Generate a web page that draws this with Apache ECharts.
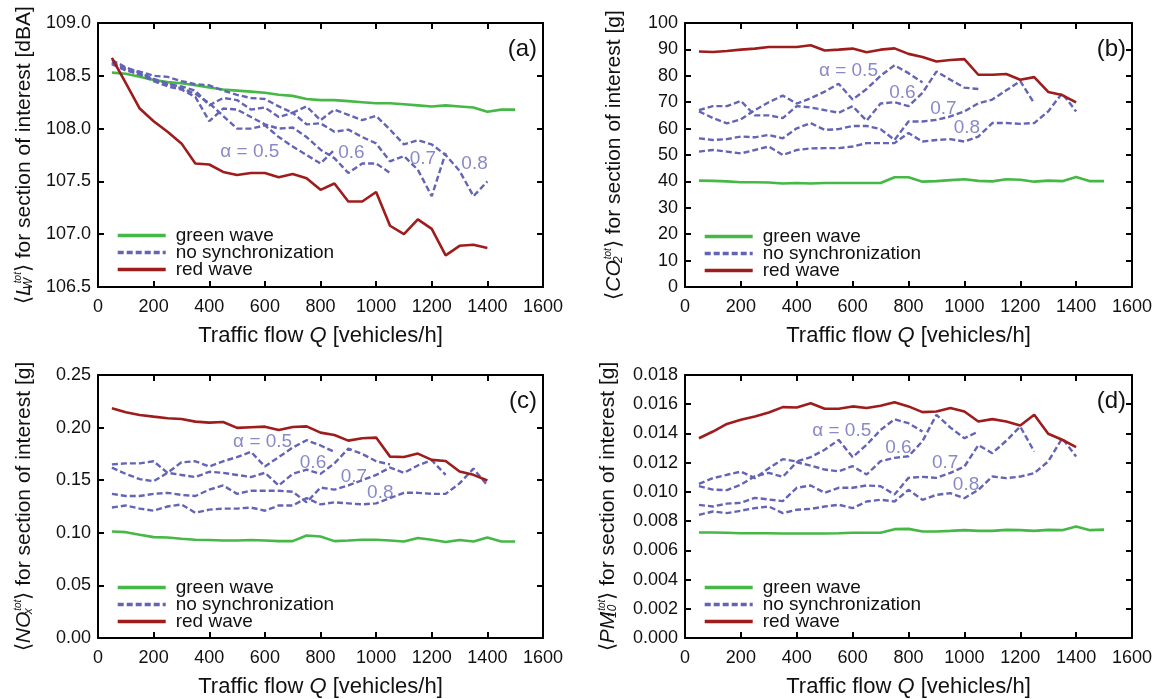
<!DOCTYPE html>
<html><head><meta charset="utf-8">
<script src="https://cdn.jsdelivr.net/npm/echarts@6/dist/echarts.min.js"></script>
<style>html,body{margin:0;padding:0;background:#fff}#c{width:1161px;height:699px}</style>
</head><body><div id="c"></div>
<script>
// Traffic flow Q [vehicles/h]
const flow = [50,100,150,200,250,300,350,400,450,500,550,600,650,700,750,800,850,900,950,1000,1050,1100,1150,1200,1250,1300,1350,1400,1450,1500];

// (a) <L_W^tot> [dBA]
const aGreen = [108.53,108.52,108.49,108.46,108.44,108.43,108.41,108.39,108.37,108.36,108.35,108.34,108.32,108.31,108.28,108.27,108.27,108.26,108.25,108.24,108.24,108.23,108.22,108.21,108.22,108.21,108.20,108.16,108.18,108.18];
const aRed = [108.67,108.43,108.19,108.07,107.97,107.86,107.67,107.66,107.59,107.56,107.58,107.58,107.54,107.57,107.53,107.42,107.48,107.31,107.31,107.40,107.08,107.00,107.14,107.05,106.80,106.89,106.90,106.87];
const aNoSync05 = [108.65,108.58,108.53,108.47,108.43,108.38,108.33,108.24,108.12,108.00,108.00,108.03,107.92,107.83,107.75,107.67,107.80];
const aNoSync06 = [108.62,108.56,108.51,108.45,108.40,108.37,108.30,108.07,108.19,108.18,108.11,108.04,108.00,108.01,107.92,107.80,107.72,107.58,107.67,107.67,107.58];
const aNoSync07 = [108.61,108.55,108.52,108.46,108.42,108.40,108.36,108.22,108.29,108.27,108.18,108.20,108.11,108.15,108.04,108.05,107.97,107.99,107.92,107.86,107.69,107.74,107.61,107.36,107.77];
const aNoSync08 = [108.63,108.57,108.54,108.50,108.49,108.45,108.42,108.41,108.36,108.32,108.29,108.28,108.21,108.15,108.21,108.08,108.18,108.13,108.08,108.12,107.99,107.85,107.89,107.85,107.75,107.60,107.36,107.50];

// (b) <CO2^tot> [g]
const bGreen = [40.3,40.2,40.0,39.7,39.7,39.6,39.2,39.4,39.2,39.4,39.4,39.4,39.4,39.4,41.6,41.6,39.9,40.1,40.5,40.8,40.2,40.0,40.8,40.6,39.9,40.3,40.1,41.7,40.1,40.1];
const bRed = [89.2,89.0,89.4,89.9,90.3,90.9,90.9,90.9,91.6,89.6,89.9,90.3,88.9,89.9,90.4,88.3,87.1,85.4,86.0,86.3,80.4,80.4,80.7,78.5,79.5,73.9,72.7,69.9];
const bNoSync05 = [66.5,64.0,62.0,63.5,67.0,70.0,72.5,69.5,71.5,74.0,77.0,71.0,75.0,80.0,84.0,81.0,77.5];
const bNoSync06 = [67.0,68.5,68.5,70.5,65.0,65.0,64.0,68.5,68.0,67.0,66.0,68.5,63.0,69.5,70.0,68.5,73.5,81.6,78.5,75.5,75.0];
const bNoSync07 = [56.3,55.7,56.0,57.0,56.7,57.6,56.3,60.1,62.1,59.5,59.8,61.0,61.0,59.8,55.7,62.7,62.7,63.3,64.6,66.5,69.6,71.0,74.5,78.0,69.6];
const bNoSync08 = [51.3,51.9,51.3,50.6,51.9,53.2,50.0,51.9,52.5,52.6,52.6,53.2,54.5,54.5,54.5,58.3,55.1,55.7,56.0,55.1,57.0,62.1,62.1,61.8,62.1,66.5,73.4,66.5];

// (c) <NOx^tot> [g]
const cGreen = [0.1012,0.1006,0.0981,0.0959,0.0956,0.0943,0.0934,0.0931,0.0927,0.0927,0.0931,0.0927,0.0921,0.0921,0.0975,0.0965,0.0921,0.0927,0.0934,0.0934,0.0927,0.0918,0.0950,0.0934,0.0912,0.0931,0.0918,0.0956,0.0918,0.0918];
const cRed = [0.2184,0.2146,0.2120,0.2104,0.2089,0.2082,0.2057,0.2047,0.2053,0.1997,0.2003,0.2009,0.1978,0.2006,0.2012,0.1952,0.1930,0.1876,0.1899,0.1905,0.1724,0.1721,0.1753,0.1693,0.1683,0.1582,0.1551,0.1497];
const cNoSync05 = [0.162,0.156,0.151,0.149,0.157,0.167,0.168,0.163,0.168,0.172,0.177,0.163,0.172,0.181,0.188,0.183,0.177];
const cNoSync06 = [0.165,0.166,0.166,0.168,0.157,0.155,0.153,0.158,0.157,0.155,0.153,0.157,0.145,0.156,0.160,0.156,0.166,0.180,0.175,0.168,0.165];
const cNoSync07 = [0.137,0.135,0.135,0.137,0.138,0.136,0.135,0.141,0.145,0.137,0.140,0.140,0.140,0.139,0.129,0.143,0.141,0.145,0.150,0.155,0.162,0.157,0.164,0.169,0.155];
const cNoSync08 = [0.124,0.126,0.123,0.121,0.125,0.127,0.119,0.122,0.123,0.123,0.124,0.121,0.126,0.126,0.133,0.127,0.129,0.128,0.127,0.128,0.133,0.138,0.138,0.137,0.137,0.147,0.161,0.145];

// (d) <PM10^tot> [g]
const dGreen = [0.00722,0.00722,0.00720,0.00717,0.00717,0.00717,0.00715,0.00715,0.00715,0.00715,0.00717,0.00720,0.00720,0.00720,0.00745,0.00747,0.00729,0.00729,0.00733,0.00738,0.00733,0.00733,0.00740,0.00738,0.00733,0.00740,0.00738,0.00763,0.00738,0.00742];
const dRed = [0.01367,0.01413,0.01465,0.01493,0.01516,0.01543,0.01580,0.01578,0.01607,0.01569,0.01569,0.01585,0.01574,0.01589,0.01614,0.01585,0.01546,0.01550,0.01574,0.01550,0.01482,0.01498,0.01482,0.01455,0.01528,0.01398,0.01357,0.01307];
const dNoSync05 = [0.01055,0.01094,0.01117,0.01139,0.01094,0.01162,0.01224,0.01208,0.01238,0.01288,0.01356,0.01238,0.01322,0.01424,0.01497,0.01470,0.01413];
const dNoSync06 = [0.01039,0.01016,0.01012,0.01050,0.01107,0.01130,0.01103,0.01203,0.01180,0.01153,0.01141,0.01176,0.01119,0.01210,0.01233,0.01244,0.01347,0.01527,0.01440,0.01367,0.01413];
const dNoSync07 = [0.00911,0.00900,0.00920,0.00925,0.00959,0.00948,0.00937,0.01028,0.01044,0.00994,0.01028,0.01028,0.01044,0.01039,0.00982,0.01096,0.01103,0.01096,0.01130,0.01173,0.01320,0.01265,0.01350,0.01447,0.01276];
const dNoSync08 = [0.00843,0.00866,0.00855,0.00871,0.00889,0.00900,0.00855,0.00878,0.00884,0.00900,0.00912,0.00889,0.00934,0.00946,0.00934,0.01014,0.00946,0.00980,0.00991,0.00957,0.01014,0.01105,0.01094,0.01105,0.01128,0.01208,0.01367,0.01242];

// alpha labels: [Q, value, text]
const aAlphaLabels = [[546,107.78,'α = 0.5'],[911,107.77,'0.6'],[1168,107.71,'0.7'],[1354,107.67,'0.8']];
const bAlphaLabels = [[585,82.0,'α = 0.5'],[778,73.7,'0.6'],[925,67.5,'0.7'],[1009,60.5,'0.8']];
const cAlphaLabels = [[592,0.1867,'α = 0.5'],[773,0.1662,'0.6'],[920,0.1535,'0.7'],[1015,0.1377,'0.8']];
const dAlphaLabels = [[561,0.01417,'α = 0.5'],[764,0.0130,'0.6'],[931,0.01196,'0.7'],[1006,0.01052,'0.8']];

const legendNames = ['green wave','no synchronization','red wave'];
const panelTags = ['(a)','(b)','(c)','(d)'];

const GREEN='#45b845', BLUE='#6464b6', RED='#9e1c1c', LBL='#6c6cb8';
const FONT='"Liberation Sans", Arial, sans-serif';

const panels = [
  {grid:{left:98,top:23,width:445,height:264}, min:106.5,max:109,step:0.5,dec:1,
   green:aGreen, red:aRed, ns:[aNoSync05,aNoSync06,aNoSync07,aNoSync08], labels:aAlphaLabels,
   yname:'⟨{it|L}{sub|W}{sup|tot}⟩ for section of interest [dBA]', gap:63, legTop:226},
  {grid:{left:685,top:23,width:447,height:264}, min:0,max:100,step:10,dec:0,
   green:bGreen, red:bRed, ns:[bNoSync05,bNoSync06,bNoSync07,bNoSync08], labels:bAlphaLabels,
   yname:'⟨{it|CO}{sub|2}{sup|tot}⟩ for section of interest [g]', gap:60, legTop:227},
  {grid:{left:98,top:375,width:445,height:263}, min:0,max:0.25,step:0.05,dec:2,
   green:cGreen, red:cRed, ns:[cNoSync05,cNoSync06,cNoSync07,cNoSync08], labels:cAlphaLabels,
   yname:'⟨{it|NO}{sub|x}{sup|tot}⟩ for section of interest [g]', gap:63, legTop:578},
  {grid:{left:685,top:375,width:447,height:263}, min:0,max:0.018,step:0.002,dec:3,
   green:dGreen, red:dRed, ns:[dNoSync05,dNoSync06,dNoSync07,dNoSync08], labels:dAlphaLabels,
   yname:'⟨{it|PM}{sub|10}{sup|tot}⟩ for section of interest [g]', gap:66, legTop:578}
];

const pairs = vals => vals.map((v,i)=>[flow[i], v]);
const richY = {
  it:{fontStyle:'italic', fontSize:21, fontFamily:FONT, color:'#111'},
  sub:{fontStyle:'italic', fontSize:12, fontFamily:FONT, color:'#111', padding:[10,0,0,0], width:1},
  sup:{fontStyle:'italic', fontSize:10, fontFamily:FONT, color:'#111', padding:[0,0,12,0]}
};

const grid=[], xAxis=[], yAxis=[], series=[], legend=[], graphic=[];
panels.forEach((p,i)=>{
  grid.push(p.grid);
  const tick = {show:true, inside:true, length:6, lineStyle:{color:'#000', width:2}};
  const line = {show:true, onZero:false, lineStyle:{color:'#000', width:2}};
  xAxis.push({type:'value', gridIndex:i, min:0, max:1600, interval:200, position:'bottom',
    axisLine:line, axisTick:tick, splitLine:{show:false},
    axisLabel:{color:'#111', fontSize:18, fontFamily:FONT, margin:11, formatter:v=>String(v)},
    name:'Traffic flow {q|Q} [vehicles/h]', nameLocation:'middle', nameGap:38,
    nameTextStyle:{color:'#111', fontSize:22, fontFamily:FONT, rich:{q:{fontStyle:'italic', fontSize:22, fontFamily:FONT, color:'#111'}}}});
  xAxis.push({type:'value', gridIndex:i, min:0, max:1600, interval:200, position:'top',
    axisLine:line, axisTick:tick, axisLabel:{show:false}, splitLine:{show:false}});
  yAxis.push({type:'value', gridIndex:i, min:p.min, max:p.max, interval:p.step, position:'left',
    axisLine:line, axisTick:tick, splitLine:{show:false},
    axisLabel:{color:'#111', fontSize:18, fontFamily:FONT, margin:7, formatter:v=>v.toFixed(p.dec)},
    name:p.yname, nameLocation:'middle', nameGap:p.gap, nameRotate:90,
    nameTextStyle:{color:'#111', fontSize:21, fontFamily:FONT, rich:richY}});
  yAxis.push({type:'value', gridIndex:i, min:p.min, max:p.max, interval:p.step, position:'right',
    axisLine:line, axisTick:tick, axisLabel:{show:false}, splitLine:{show:false}});
  const xi=i*2, yi=i*2;
  series.push({type:'line', name:'green wave', xAxisIndex:xi, yAxisIndex:yi, data:pairs(p.green),
    symbol:'none', lineStyle:{color:GREEN, width:2.6}, itemStyle:{color:GREEN}, z:2});
  p.ns.forEach(arr=>series.push({type:'line', name:'no synchronization', xAxisIndex:xi, yAxisIndex:yi,
    data:pairs(arr), symbol:'none', lineStyle:{color:BLUE, width:2.4, type:[6,3]}, itemStyle:{color:BLUE}, z:3}));
  series.push({type:'line', name:'red wave', xAxisIndex:xi, yAxisIndex:yi, data:pairs(p.red),
    symbol:'none', lineStyle:{color:RED, width:2.6}, itemStyle:{color:RED}, z:4});
  series.push({type:'scatter', name:'alpha', xAxisIndex:xi, yAxisIndex:yi, data:p.labels,
    symbolSize:1, itemStyle:{color:'rgba(0,0,0,0)'}, silent:true, z:5,
    label:{show:true, position:'inside', formatter:d=>d.data[2], color:LBL, fontSize:19, fontFamily:FONT}});
  legendNames.forEach((nm,k)=>{
    legend.push({data:[nm], orient:'vertical', left:p.grid.left+18, top:p.legTop+k*17, padding:0,
      itemWidth:48, itemHeight:14, selectedMode:false,
      itemStyle:{opacity:0}, lineStyle:{width:3.4},
      textStyle:{color:'#111', fontSize:19, fontFamily:FONT, lineHeight:14, padding:[0,0,0,5]}});
  });
  graphic.push({type:'text', right:1161-(p.grid.left+p.grid.width)+6, top:p.grid.top+14,
    style:{text:panelTags[i], fontSize:24, fontFamily:FONT, fill:'#111'}});
});

const chart = echarts.init(document.getElementById('c'), null, {renderer:'canvas'});
chart.setOption({animation:false, backgroundColor:'#fff', grid, xAxis, yAxis, series, legend, graphic});
</script></body></html>
